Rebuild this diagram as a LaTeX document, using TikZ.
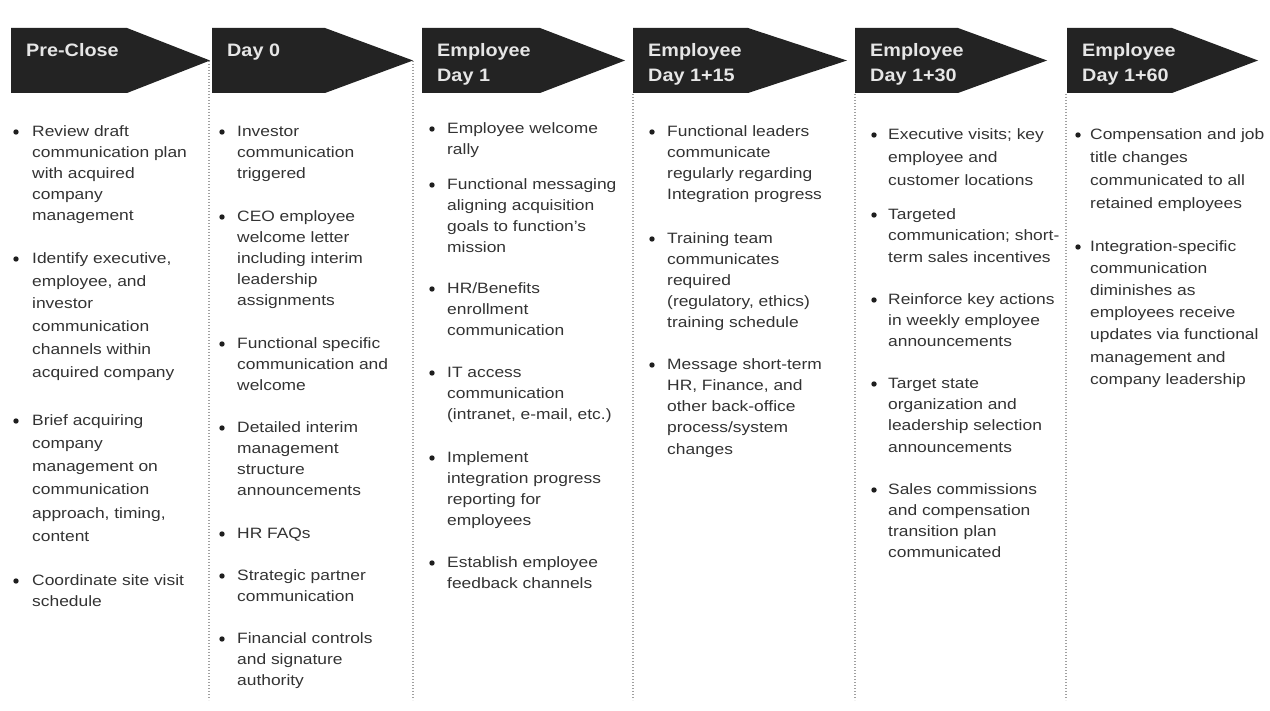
\documentclass[tikz,border=0pt]{standalone}
\usepackage{fontspec}
\setmainfont[FakeStretch=1.16]{Liberation Sans}
\newfontfamily\headfont[FakeStretch=1.1]{Liberation Sans}
\definecolor{hdr}{HTML}{232323}
\definecolor{hdrtext}{HTML}{E6E6E6}
\definecolor{bodytext}{HTML}{333333}
\definecolor{bulletdot}{HTML}{1E1E1E}
\definecolor{sepline}{HTML}{A0A0A0}

% header arrow: name, left x, corner x, tip x, label
\newcommand\phasehdr[5]{%
  \fill[hdr] (#2,28) -- (#3,28) -- (#4,60.5) -- (#3,93) -- (#2,93) -- cycle;
  \node[hdrlabel] (#1) at ({#2+15},{56-17.5}) {\strut #5};
}
% bullet item: name, bullet x, text x, first-line centre y, line spacing, text
\newcommand\bitem[6]{%
  \fill[bulletdot] (#2,{#4+1}) circle (2.7);
  \node[itemtext=#5] (#1) at (#3,{#4+5-0.7*#5}) {\strut #6};
}

\begin{document}
\begin{tikzpicture}[x=1pt,y=-1pt,
  hdrlabel/.style={anchor=north west, inner sep=0pt, text=hdrtext, align=left,
    font=\headfont\bfseries\fontsize{18}{25}\selectfont},
  itemtext/.style={anchor=north west, inner sep=0pt, text=bodytext, align=left,
    font=\fontsize{15}{#1}\selectfont},
  itemtext/.default=21.2,
  sepstyle/.style={draw=sepline, line width=1.2pt, dash pattern=on 1.2pt off 1.8pt}]

\fill[white] (0,0) rectangle (1270,711);
\useasboundingbox (0,0) rectangle (1270,711);

% column separators
\draw[sepstyle] (209,61) -- (209,700);
\draw[sepstyle] (413,61) -- (413,700);
\draw[sepstyle] (633,94) -- (633,700);
\draw[sepstyle] (855,94) -- (855,700);
\draw[sepstyle] (1066,94) -- (1066,700);

% phase headers
\phasehdr{h1}{11}{127}{210}{Pre-Close}
\phasehdr{h2}{212}{325}{413}{Day 0}
\phasehdr{h3}{422}{540}{625}{Employee\\Day 1}
\phasehdr{h4}{633}{748}{847}{Employee\\Day 1+15}
\phasehdr{h5}{855}{958}{1047}{Employee\\Day 1+30}
\phasehdr{h6}{1067}{1172}{1258}{Employee\\Day 1+60}

% Pre-Close
\bitem{c1a}{16}{32}{131}{21.2}{Review draft\\communication plan\\with acquired\\company\\management}
\bitem{c1b}{16}{32}{258}{22.8}{Identify executive,\\employee, and\\investor\\communication\\channels within\\acquired company}
\bitem{c1c}{16}{32}{420}{23.2}{Brief acquiring\\company\\management on\\communication\\approach, timing,\\content}
\bitem{c1d}{16}{32}{580}{21}{Coordinate site visit\\schedule}

% Day 0
\bitem{c2a}{222}{237}{131}{21.15}{Investor\\communication\\triggered}
\bitem{c2b}{222}{237}{216}{21.15}{CEO employee\\welcome letter\\including interim\\leadership\\assignments}
\bitem{c2c}{222}{237}{343}{21.15}{Functional specific\\communication and\\welcome}
\bitem{c2d}{222}{237}{427}{21.15}{Detailed interim\\management\\structure\\announcements}
\bitem{c2e}{222}{237}{533}{21.15}{HR FAQs}
\bitem{c2f}{222}{237}{575}{21.15}{Strategic partner\\communication}
\bitem{c2g}{222}{237}{638}{21.15}{Financial controls\\and signature\\authority}

% Employee Day 1
\bitem{c3a}{432}{447}{128}{21.5}{Employee welcome\\rally}
\bitem{c3b}{432}{447}{184}{21}{Functional messaging\\aligning acquisition\\goals to function’s\\mission}
\bitem{c3c}{432}{447}{288}{21}{HR/Benefits\\enrollment\\communication}
\bitem{c3d}{432}{447}{372}{21}{IT access\\communication\\(intranet, e-mail, etc.)}
\bitem{c3e}{432}{447}{457}{21}{Implement\\integration progress\\reporting for\\employees}
\bitem{c3f}{432}{447}{562}{21}{Establish employee\\feedback channels}

% Employee Day 1+15
\bitem{c4a}{652}{667}{131}{21.2}{Functional leaders\\communicate\\regularly regarding\\Integration progress}
\bitem{c4b}{652}{667}{238}{21.2}{Training team\\communicates\\required\\(regulatory, ethics)\\training schedule}
\bitem{c4c}{652}{667}{364}{21.2}{Message short-term\\HR, Finance, and\\other back-office\\process/system\\changes}

% Employee Day 1+30
\bitem{c5a}{874}{888}{134}{23}{Executive visits; key\\employee and\\customer locations}
\bitem{c5b}{874}{888}{214}{21.5}{Targeted\\communication; short-\\term sales incentives}
\bitem{c5c}{874}{888}{299}{21}{Reinforce key actions\\in weekly employee\\announcements}
\bitem{c5d}{874}{888}{383}{21.3}{Target state\\organization and\\leadership selection\\announcements}
\bitem{c5e}{874}{888}{489}{21}{Sales commissions\\and compensation\\transition plan\\communicated}

% Employee Day 1+60
\bitem{c6a}{1078}{1090}{134}{23}{Compensation and job\\title changes\\communicated to all\\retained employees}
\bitem{c6b}{1078}{1090}{246}{22.2}{Integration-specific\\communication\\diminishes as\\employees receive\\updates via functional\\management and\\company leadership}

\end{tikzpicture}
\end{document}
